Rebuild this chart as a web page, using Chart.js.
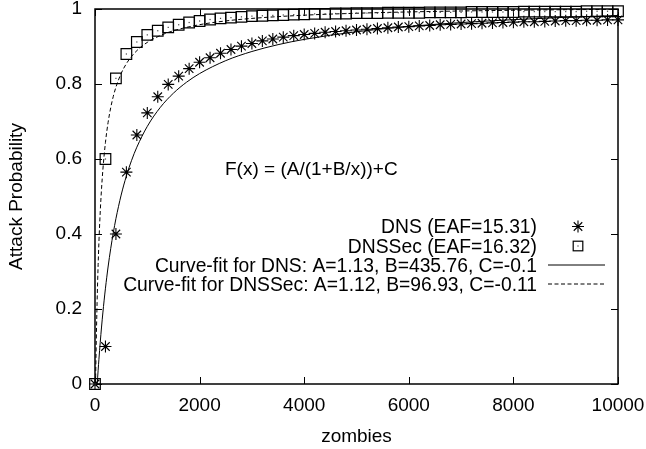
<!DOCTYPE html>
<html><head><meta charset="utf-8">
<script src="https://cdn.jsdelivr.net/npm/chart.js@4.4.1/dist/chart.umd.min.js"></script>
<style>html,body{margin:0;padding:0;background:#fff}#wrap{width:646px;height:449px}</style>
</head><body><div id="wrap"><canvas id="c" width="646" height="449"></canvas></div>
<script>
const zombies = [0,200,400,600,800,1000,1200,1400,1600,1800,2000,2200,2400,2600,2800,3000,3200,3400,3600,3800,4000,4200,4400,4600,4800,5000,5200,5400,5600,5800,6000,6200,6400,6600,6800,7000,7200,7400,7600,7800,8000,8200,8400,8600,8800,9000,9200,9400,9600,9800,10000];
const dnsValues = [0,0.10,0.40,0.565,0.664,0.723,0.766,0.799,0.821,0.841,0.858,0.870,0.882,0.892,0.901,0.908,0.915,0.920,0.925,0.929,0.932,0.935,0.938,0.940,0.942,0.944,0.946,0.948,0.950,0.952,0.953,0.955,0.956,0.958,0.959,0.960,0.961,0.962,0.963,0.964,0.965,0.966,0.966,0.967,0.968,0.969,0.969,0.970,0.970,0.971,0.971];
const dnssecValues = [0,0.60,0.815,0.880,0.912,0.931,0.942,0.951,0.958,0.964,0.968,0.972,0.975,0.977,0.979,0.981,0.982,0.983,0.984,0.985,0.986,0.987,0.987,0.988,0.988,0.989,0.989,0.989,0.990,0.990,0.990,0.990,0.991,0.991,0.991,0.991,0.992,0.992,0.992,0.992,0.992,0.993,0.993,0.993,0.993,0.993,0.993,0.994,0.994,0.994,0.994];
const dnsFitX = [42.3,50,60,75,100,125,150,200,250,300,350,400,500,600,700,800,1000,1250,1500,1750,2000,2500,3000,3500,4000,5000,6000,7000,8000,9000,10000];
const dnsFitY = [0,0.0163,0.0368,0.0659,0.1109,0.1519,0.1894,0.2555,0.3120,0.3608,0.4033,0.4408,0.5038,0.5546,0.5965,0.6315,0.6870,0.7379,0.7756,0.8047,0.8278,0.8623,0.8867,0.9049,0.9190,0.9394,0.9535,0.9638,0.9716,0.9778,0.9828];
const dnssecFitX = [9.5,12,15,20,25,30,40,50,60,75,100,125,150,200,250,300,350,400,500,600,700,850,1000,1250,1500,2000,2500,3000,4000,5000,6000,7000,8000,9000,10000];
const dnssecFitY = [0,0.0134,0.0401,0.0816,0.1196,0.1547,0.2172,0.2711,0.3182,0.3786,0.4587,0.5208,0.5704,0.6444,0.6971,0.7365,0.7671,0.7915,0.8281,0.8542,0.8738,0.8954,0.9110,0.9294,0.9420,0.9582,0.9682,0.9749,0.9835,0.9887,0.9922,0.9947,0.9966,0.9981,0.9992];
const xTickValues = [0,2000,4000,6000,8000,10000];
const xTickLabels = ['0','2000','4000','6000','8000','10000'];
const yTickValues = [0,0.2,0.4,0.6,0.8,1];
const yTickLabels = ['0','0.2','0.4','0.6','0.8','1'];
const seriesLabels = ['DNS (EAF=15.31)','DNSSec (EAF=16.32)','Curve-fit for DNS: A=1.13, B=435.76, C=-0.1','Curve-fit for DNSSec: A=1.12, B=96.93, C=-0.11'];
const formulaText = 'F(x) = (A/(1+B/x))+C';
const xTitle = 'zombies';
const yTitle = 'Attack Probability';

const FONT = '"Liberation Sans", Arial, Helvetica, sans-serif';
const toPts = (xs, ys) => xs.map((x, i) => ({x, y: ys[i]}));

const framePlugin = {
  id: 'frame',
  beforeDatasetsDraw(chart) {
    const {ctx, chartArea: a, scales: {x, y}} = chart;
    ctx.save();
    ctx.strokeStyle = '#000';
    ctx.lineWidth = 1.5;
    ctx.strokeRect(a.left, a.top, a.right - a.left, a.bottom - a.top);
    ctx.lineWidth = 1;
    const L = 7;
    ctx.beginPath();
    xTickValues.forEach(v => {
      const px = Math.round(x.getPixelForValue(v)) + 0.5;
      ctx.moveTo(px, a.bottom); ctx.lineTo(px, a.bottom - L);
      ctx.moveTo(px, a.top); ctx.lineTo(px, a.top + L);
    });
    yTickValues.forEach(v => {
      const py = Math.round(y.getPixelForValue(v)) + 0.5;
      ctx.moveTo(a.left, py); ctx.lineTo(a.left + L, py);
      ctx.moveTo(a.right, py); ctx.lineTo(a.right - L, py);
    });
    ctx.stroke();
    ctx.restore();
  },
  afterDatasetsDraw(chart) {
    const {ctx} = chart;
    const meta = chart.getDatasetMeta(1);
    ctx.save();
    ctx.fillStyle = '#444';
    meta.data.forEach(el => { ctx.fillRect(el.x - 0.6, el.y - 0.6, 1.2, 1.2); });
    ctx.restore();
  },
  afterDraw(chart) {
    const {ctx, chartArea: a} = chart;
    ctx.save();
    ctx.fillStyle = '#000';
    ctx.font = '19px ' + FONT;
    ctx.textBaseline = 'alphabetic';
    ctx.textAlign = 'left';
    ctx.fillText(formulaText, a.left + 130, a.top + 166);
    // legend
    const tx = a.right - 81, sx = a.right - 40, l0 = a.right - 70, l1 = a.right - 13;
    const base = [a.top + 224, a.top + 243.5, a.top + 262.5, a.top + 281.5];
    ctx.textAlign = 'right';
    ctx.font = '19.3px ' + FONT;
    seriesLabels.forEach((t, i) => ctx.fillText(t, tx, base[i]));
    ctx.strokeStyle = '#000';
    ctx.lineWidth = 1.1;
    // star
    const cy0 = base[0] - 6.5, r = 6;
    ctx.beginPath();
    ctx.moveTo(sx - r, cy0); ctx.lineTo(sx + r, cy0);
    ctx.moveTo(sx, cy0 - r); ctx.lineTo(sx, cy0 + r);
    const d = r * Math.SQRT1_2;
    ctx.moveTo(sx - d, cy0 - d); ctx.lineTo(sx + d, cy0 + d);
    ctx.moveTo(sx - d, cy0 + d); ctx.lineTo(sx + d, cy0 - d);
    ctx.stroke();
    // square
    const cy1 = base[1] - 6.5;
    ctx.lineWidth = 1.2;
    ctx.strokeRect(sx - 4.8, cy1 - 4.8, 9.6, 9.6);
    ctx.fillStyle = '#444';
    ctx.fillRect(sx - 0.6, cy1 - 0.6, 1.2, 1.2);
    // lines
    ctx.lineWidth = 1;
    ctx.beginPath(); ctx.moveTo(l0, base[2] - 6.5); ctx.lineTo(l1, base[2] - 6.5); ctx.stroke();
    ctx.setLineDash([4, 2.5]);
    ctx.beginPath(); ctx.moveTo(l0, base[3] - 6.5); ctx.lineTo(l1, base[3] - 6.5); ctx.stroke();
    ctx.restore();
  }
};

new Chart(document.getElementById('c'), {
  type: 'scatter',
  data: {
    datasets: [
      {label: seriesLabels[0], data: toPts(zombies, dnsValues), showLine: false,
       pointStyle: 'star', pointRadius: 6, borderColor: '#000', borderWidth: 1.1,
       backgroundColor: 'rgba(0,0,0,0)', clip: false, order: 2},
      {label: seriesLabels[1], data: toPts(zombies, dnssecValues), showLine: false,
       pointStyle: 'rect', pointRadius: 7.5, borderColor: '#000', borderWidth: 1.2,
       backgroundColor: 'rgba(0,0,0,0)', clip: false, order: 3},
      {label: seriesLabels[2], data: toPts(dnsFitX, dnsFitY), showLine: true, pointRadius: 0,
       borderColor: '#000', borderWidth: 1, cubicInterpolationMode: 'monotone', order: 1},
      {label: seriesLabels[3], data: toPts(dnssecFitX, dnssecFitY), showLine: true, pointRadius: 0,
       borderColor: '#000', borderWidth: 1, borderDash: [4, 2.5], cubicInterpolationMode: 'monotone', order: 0}
    ]
  },
  options: {
    responsive: false,
    animation: false,
    devicePixelRatio: 1,
    layout: {padding: {top: 9, right: 28, bottom: 0, left: 0}},
    plugins: {legend: {display: false}, tooltip: {enabled: false}},
    scales: {
      x: {
        type: 'linear', min: 0, max: 10000,
        afterBuildTicks: s => { s.ticks = xTickValues.map(v => ({value: v})); },
        afterFit: s => { s.height = 65; s.paddingLeft = 0; s.paddingRight = 0; },
        grid: {display: false, drawTicks: false}, border: {display: false},
        ticks: {color: '#000', font: {family: FONT, size: 19}, padding: 10, maxRotation: 0,
                callback: v => xTickLabels[xTickValues.indexOf(v)]},
        title: {display: true, text: xTitle, color: '#000', font: {family: FONT, size: 19}, padding: {top: 0, bottom: 1}}
      },
      y: {
        type: 'linear', min: 0, max: 1,
        afterBuildTicks: s => { s.ticks = yTickValues.map(v => ({value: v})); },
        afterFit: s => { s.width = 95; s.paddingTop = 0; s.paddingBottom = 0; },
        grid: {display: false, drawTicks: false}, border: {display: false},
        ticks: {color: '#000', font: {family: FONT, size: 19}, padding: 13,
                callback: v => yTickLabels[yTickValues.indexOf(v)]},
        title: {display: true, text: yTitle, color: '#000', font: {family: FONT, size: 19}, padding: {top: 5, bottom: 0}}
      }
    }
  },
  plugins: [framePlugin]
});
</script>
</body></html>
